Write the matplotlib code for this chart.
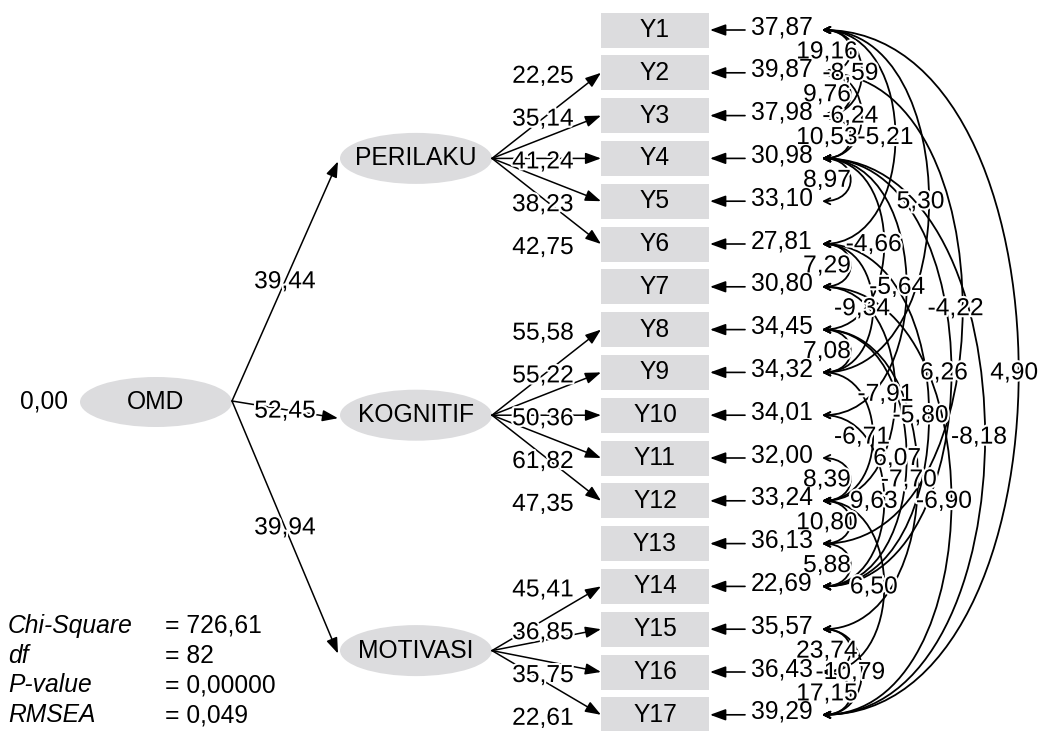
import matplotlib
matplotlib.use('Agg')
import matplotlib.pyplot as plt
from matplotlib.patches import Ellipse, Rectangle, FancyArrowPatch
from matplotlib.path import Path
import matplotlib.patheffects as pe

# ---------------- data ----------------
indicators = [f'Y{i}' for i in range(1, 18)]
error_var = [37.87, 39.87, 37.98, 30.98, 33.10, 27.81, 30.80, 34.45, 34.32,
             34.01, 32.00, 33.24, 36.13, 22.69, 35.57, 36.43, 39.29]

exogenous = 'OMD'
exo_var = 0.00
latents = ['PERILAKU', 'KOGNITIF', 'MOTIVASI']
gamma = [39.44, 52.45, 39.94]

perilaku_items = ['Y2', 'Y3', 'Y4', 'Y5', 'Y6']
perilaku_load = [22.25, 35.14, 41.24, 38.23, 42.75]
kognitif_items = ['Y8', 'Y9', 'Y10', 'Y11', 'Y12']
kognitif_load = [55.58, 55.22, 50.36, 61.82, 47.35]
motivasi_items = ['Y14', 'Y15', 'Y16', 'Y17']
motivasi_load = [45.41, 36.85, 35.75, 22.61]

cov_from = ['Y1', 'Y1', 'Y2', 'Y2', 'Y3', 'Y1', 'Y4', 'Y1', 'Y4', 'Y6', 'Y4',
            'Y6', 'Y2', 'Y8', 'Y4', 'Y1', 'Y7', 'Y6', 'Y9', 'Y4', 'Y8', 'Y11',
            'Y8', 'Y10', 'Y12', 'Y7', 'Y13', 'Y12', 'Y15', 'Y15', 'Y16']
cov_to = ['Y2', 'Y3', 'Y3', 'Y4', 'Y4', 'Y6', 'Y5', 'Y9', 'Y8', 'Y7', 'Y10',
          'Y9', 'Y13', 'Y9', 'Y14', 'Y17', 'Y12', 'Y14', 'Y12', 'Y17', 'Y14',
          'Y12', 'Y15', 'Y14', 'Y13', 'Y17', 'Y14', 'Y16', 'Y16', 'Y17', 'Y17']
cov_vals = [19.16, -8.59, 9.76, -6.24, 10.53, -5.21, 8.97, 5.30, -4.66, 7.29,
            -5.64, -9.34, -4.22, 7.08, 6.26, 4.90, -7.91, -5.80, -6.71, -8.18,
            6.07, 8.39, -7.70, 9.63, 10.80, -6.90, 5.88, 6.50, 23.74, -10.79,
            17.15]

fit_names = ['Chi-Square', 'df', 'P-value', 'RMSEA']
fit_values = ['726,61', '82', '0,00000', '0,049']


def fmt(v):
    return f'{v:.2f}'.replace('.', ',')


# ---------------- layout / style ----------------
W, H = 1044, 731
fig = plt.figure(figsize=(W / 100, H / 100), dpi=100)
ax = fig.add_axes([0, 0, 1, 1])
ax.set_xlim(0, W)
ax.set_ylim(H, 0)
ax.axis('off')

FONT = 'Liberation Sans'
FS = 17.7
GRAY = '#dcdcde'
halo = [pe.withStroke(linewidth=3, foreground='white')]
head = '-|>,head_length=0.63,head_width=0.23'

row0, drow = 30.0, 42.8
ypos = {name: row0 + drow * k for k, name in enumerate(indicators)}

box_x, box_w, box_h = 601, 108, 35
err_text_x = 782
err_arrow_x0 = 745
arc_x0 = 822

# indicator boxes + error arrows
for name, ev in zip(indicators, error_var):
    y = ypos[name]
    ax.add_patch(Rectangle((box_x, y - box_h / 2), box_w, box_h, fc=GRAY, ec='none', zorder=1))
    ax.text(box_x + box_w / 2, y, name, ha='center', va='center', fontsize=FS,
            family=FONT, zorder=3)
    ax.add_patch(FancyArrowPatch((err_arrow_x0, y), (box_x + box_w + 1, y),
                                 arrowstyle=head, mutation_scale=15, lw=1.2,
                                 color='black', shrinkA=0, shrinkB=0, zorder=2))
    ax.text(err_text_x, y - 3, fmt(ev), ha='center', va='center', fontsize=FS,
            family=FONT, zorder=5)

# error covariance arcs
for a, b, v in zip(cov_from, cov_to, cov_vals):
    ya, yb = ypos[a], ypos[b]
    span = abs(indicators.index(b) - indicators.index(a))
    off = 17 + 11.2 * span
    c = off * 4 / 3
    verts = [(arc_x0, ya), (arc_x0 + c, ya), (arc_x0 + c, yb), (arc_x0, yb)]
    codes = [Path.MOVETO, Path.CURVE4, Path.CURVE4, Path.CURVE4]
    ax.add_patch(FancyArrowPatch(path=Path(verts, codes),
                                 arrowstyle='<->,head_length=0.45,head_width=0.22',
                                 mutation_scale=10, lw=1.3, color='black',
                                 shrinkA=0, shrinkB=0, zorder=2))
    lab_off = 11.7 * span + 5 if span > 1 else 5
    ly = (ya + yb) / 2
    ax.text(arc_x0 + lab_off, ly, fmt(v), ha='center', va='center', fontsize=FS,
            family=FONT, path_effects=halo, zorder=4)

# latent variables
lat_x, lat_w, lat_h = 416, 152, 51
lat_groups = [(perilaku_items, perilaku_load),
              (kognitif_items, kognitif_load),
              (motivasi_items, motivasi_load)]
lat_y = []
for name, (items, loads) in zip(latents, lat_groups):
    cy = sum(ypos[i] for i in items) / len(items)
    lat_y.append(cy)
    ax.add_patch(Ellipse((lat_x, cy), lat_w, lat_h, fc=GRAY, ec='none', zorder=1))
    ax.text(lat_x, cy, name, ha='center', va='center', fontsize=FS, family=FONT, zorder=3)
    x0 = lat_x + lat_w / 2
    for it, ld in zip(items, loads):
        yi = ypos[it]
        ax.add_patch(FancyArrowPatch((x0, cy), (box_x, yi), arrowstyle=head,
                                     mutation_scale=15, lw=1.1, color='black',
                                     shrinkA=0, shrinkB=0, zorder=2))
        ax.text(543, yi + 3, fmt(ld), ha='center', va='center', fontsize=FS,
                family=FONT, path_effects=halo, zorder=4)

# exogenous
omd_x, omd_y, omd_w, omd_h = 156, 402, 152, 50
ax.add_patch(Ellipse((omd_x, omd_y), omd_w, omd_h, fc=GRAY, ec='none', zorder=1))
ax.text(omd_x, omd_y, exogenous, ha='center', va='center', fontsize=FS, family=FONT, zorder=3)
ax.text(44, omd_y, fmt(exo_var), ha='center', va='center', fontsize=FS, family=FONT)
sx, sy = omd_x + omd_w / 2, omd_y - 1
for cy, g in zip(lat_y, gamma):
    tx, ty = lat_x - lat_w / 2 - 2, cy + 3
    ax.add_patch(FancyArrowPatch((sx, sy), (tx, ty), arrowstyle=head,
                                 mutation_scale=15, lw=1.1, color='black',
                                 shrinkA=0, shrinkB=0, zorder=2))
    lx = 285
    t = (lx - sx) / (tx - sx)
    ly = sy + t * (ty - sy)
    if abs(ty - sy) < 40:
        ly += 1
    ax.text(lx, ly, fmt(g), ha='center', va='center', fontsize=FS, family=FONT,
            path_effects=halo, zorder=4)

# fit statistics
for k, (n, v) in enumerate(zip(fit_names, fit_values)):
    y = 626 + 29.7 * k
    ax.text(8, y, n, ha='left', va='center', fontsize=FS, family=FONT, style='italic')
    ax.text(165, y, '= ' + v, ha='left', va='center', fontsize=FS, family=FONT)

fig.savefig('out.png', dpi=100, facecolor='white')
